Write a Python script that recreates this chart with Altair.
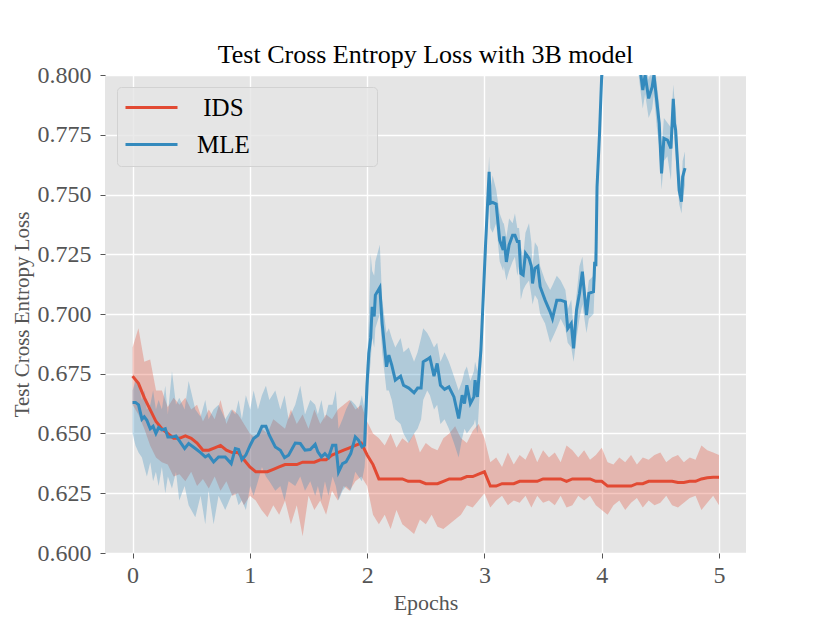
import altair as alt
import pandas as pd

# ---------------- data ----------------
ids_epoch = [round(i * 0.05, 2) for i in range(101)]
ids_mean = [
    0.674, 0.671, 0.665, 0.660, 0.655, 0.652, 0.650, 0.648, 0.648, 0.649,
    0.648, 0.646, 0.643, 0.643, 0.644, 0.645, 0.643, 0.642, 0.642, 0.639,
    0.636, 0.634, 0.634, 0.634, 0.635, 0.636, 0.637, 0.637, 0.637, 0.638,
    0.638, 0.638, 0.639, 0.639, 0.641, 0.642, 0.643, 0.644, 0.645, 0.646,
    0.641, 0.637, 0.631, 0.631, 0.631, 0.631, 0.631, 0.630, 0.630, 0.630,
    0.629, 0.629, 0.629, 0.630, 0.631, 0.631, 0.631, 0.632, 0.632, 0.633,
    0.634, 0.628, 0.628, 0.629, 0.629, 0.629, 0.630, 0.630, 0.630, 0.630,
    0.631, 0.631, 0.631, 0.631, 0.630, 0.631, 0.631, 0.631, 0.631, 0.630,
    0.630, 0.628, 0.628, 0.628, 0.628, 0.628, 0.629, 0.629, 0.630, 0.630,
    0.630, 0.630, 0.630, 0.6295, 0.6295, 0.630, 0.630, 0.631, 0.6315, 0.6317,
    0.6317,
]
ids_lo = [
    0.662, 0.658, 0.652, 0.645, 0.640, 0.638, 0.637, 0.632, 0.633, 0.630,
    0.634, 0.628, 0.631, 0.627, 0.632, 0.626, 0.630, 0.624, 0.625, 0.620,
    0.624, 0.622, 0.618, 0.615, 0.620, 0.616, 0.622, 0.612, 0.620, 0.607,
    0.624, 0.618, 0.622, 0.616, 0.626, 0.622, 0.628, 0.626, 0.630, 0.632,
    0.628, 0.616, 0.612, 0.616, 0.610, 0.618, 0.612, 0.610, 0.608, 0.614,
    0.612, 0.616, 0.611, 0.610, 0.612, 0.614, 0.616, 0.620, 0.619, 0.622,
    0.625, 0.619, 0.622, 0.624, 0.620, 0.622, 0.621, 0.624, 0.619, 0.624,
    0.621, 0.622, 0.620, 0.624, 0.619, 0.620, 0.624, 0.622, 0.624, 0.620,
    0.618, 0.616, 0.620, 0.622, 0.618, 0.621, 0.623, 0.619, 0.622, 0.620,
    0.621, 0.624, 0.620, 0.619, 0.621, 0.623, 0.624, 0.618, 0.621, 0.624,
    0.620,
]
ids_hi = [
    0.686, 0.694, 0.680, 0.681, 0.668, 0.668, 0.661, 0.665, 0.662, 0.665,
    0.660, 0.662, 0.655, 0.660, 0.656, 0.664, 0.654, 0.660, 0.658, 0.654,
    0.650, 0.648, 0.652, 0.650, 0.656, 0.654, 0.652, 0.660, 0.654, 0.658,
    0.652, 0.660, 0.654, 0.658, 0.656, 0.660, 0.662, 0.664, 0.660, 0.662,
    0.655, 0.650, 0.648, 0.645, 0.650, 0.644, 0.648, 0.646, 0.650, 0.642,
    0.646, 0.644, 0.643, 0.648, 0.650, 0.653, 0.648, 0.646, 0.651, 0.654,
    0.648, 0.638, 0.640, 0.636, 0.642, 0.637, 0.641, 0.639, 0.644, 0.638,
    0.643, 0.640, 0.642, 0.638, 0.645, 0.643, 0.640, 0.643, 0.639, 0.641,
    0.644, 0.638, 0.637, 0.640, 0.638, 0.641, 0.637, 0.640, 0.639, 0.641,
    0.642, 0.638, 0.640, 0.641, 0.638, 0.640, 0.639, 0.645, 0.643, 0.642,
    0.641,
]

mle_epoch = [
    0.000, 0.025, 0.051, 0.080, 0.100, 0.122, 0.151, 0.175, 0.199, 0.222,
    0.250, 0.279, 0.301, 0.336, 0.370, 0.398, 0.444, 0.478, 0.535, 0.580,
    0.620, 0.648, 0.691, 0.733, 0.790, 0.841, 0.876, 0.904, 0.932, 0.966,
    1.003, 1.032, 1.069, 1.103, 1.137, 1.166, 1.217, 1.260, 1.296, 1.330,
    1.387, 1.430, 1.470, 1.515, 1.557, 1.580, 1.610, 1.640, 1.670, 1.705,
    1.733, 1.756, 1.790, 1.820, 1.860, 1.899, 1.926, 1.955, 1.978, 1.998,
    2.014, 2.030, 2.043, 2.060, 2.070, 2.108, 2.128, 2.165, 2.185, 2.210,
    2.240, 2.285, 2.310, 2.355, 2.400, 2.430, 2.460, 2.478, 2.512, 2.535,
    2.570, 2.597, 2.625, 2.660, 2.697, 2.740, 2.780, 2.810, 2.830, 2.850,
    2.880, 2.910, 2.920, 2.940, 2.970, 3.010, 3.040, 3.050, 3.070, 3.100,
    3.130, 3.160, 3.165, 3.187, 3.210, 3.240, 3.260, 3.280, 3.295, 3.310,
    3.330, 3.350, 3.380, 3.400, 3.410, 3.430, 3.455, 3.475, 3.517, 3.560,
    3.580, 3.617, 3.650, 3.690, 3.710, 3.740, 3.760, 3.785, 3.810, 3.835,
    3.870, 3.890, 3.930, 3.940, 3.950, 3.960, 3.980, 4.000, 4.050, 4.100,
    4.150, 4.200, 4.250, 4.300, 4.334, 4.350, 4.370, 4.400, 4.430, 4.445,
    4.470, 4.490, 4.510, 4.530, 4.560, 4.590, 4.610, 4.620, 4.630, 4.660,
    4.680, 4.690, 4.710,
]
mle_mean = [
    0.663, 0.663, 0.662, 0.656, 0.657, 0.6555, 0.652, 0.653, 0.650, 0.6525,
    0.6515, 0.652, 0.6485, 0.6485, 0.649, 0.647, 0.6437, 0.6458, 0.6437, 0.642,
    0.6402, 0.641, 0.6381, 0.6402, 0.6402, 0.6374, 0.6437, 0.6433, 0.639, 0.641,
    0.6451, 0.6479, 0.6493, 0.653, 0.653, 0.6493, 0.6444, 0.643, 0.6399, 0.6409,
    0.646, 0.6458, 0.643, 0.6433, 0.6455, 0.6423, 0.6402, 0.6416, 0.640, 0.6451,
    0.6451, 0.6339, 0.6374, 0.6381, 0.6416, 0.6486, 0.6472, 0.6444, 0.6451, 0.6695,
    0.6835, 0.690, 0.703, 0.699, 0.7079, 0.7111, 0.696, 0.6779, 0.6828, 0.6786,
    0.6723, 0.674, 0.6702, 0.669, 0.667, 0.669, 0.669, 0.680, 0.681, 0.6818,
    0.674, 0.6793, 0.6702, 0.6685, 0.6695, 0.6653, 0.6563, 0.666, 0.6625, 0.6702,
    0.6625, 0.6653, 0.6723, 0.6653, 0.6849, 0.7295, 0.7595, 0.7463, 0.7467, 0.746,
    0.7309, 0.7268, 0.7325, 0.7218, 0.7289, 0.733, 0.733, 0.7303, 0.7303, 0.717,
    0.7163, 0.7254, 0.7233, 0.720, 0.7128, 0.7191, 0.720, 0.7114, 0.7058, 0.7009,
    0.6981, 0.7058, 0.7058, 0.7051, 0.6939, 0.696, 0.6856, 0.7016, 0.7086, 0.7177,
    0.6995, 0.7086, 0.7093, 0.7218, 0.720, 0.7532, 0.7742, 0.800, 0.822, 0.835,
    0.830, 0.838, 0.826, 0.815, 0.800, 0.7937, 0.800, 0.7902, 0.795, 0.800,
    0.7888, 0.7798, 0.7588, 0.7735, 0.7728, 0.7693, 0.790, 0.7798, 0.777, 0.7518,
    0.747, 0.7574, 0.761,
]
mle_lo = [
    0.650, 0.645, 0.642, 0.640, 0.636, 0.632, 0.638, 0.630, 0.634, 0.628,
    0.636, 0.625, 0.632, 0.627, 0.634, 0.622, 0.628, 0.620, 0.615, 0.624,
    0.612, 0.626, 0.612, 0.624, 0.618, 0.624, 0.625, 0.620, 0.622, 0.618,
    0.628, 0.624, 0.630, 0.636, 0.632, 0.630, 0.626, 0.628, 0.622, 0.630,
    0.628, 0.632, 0.626, 0.630, 0.624, 0.628, 0.622, 0.630, 0.624, 0.632,
    0.628, 0.622, 0.626, 0.628, 0.626, 0.634, 0.632, 0.630, 0.636, 0.650,
    0.672, 0.680, 0.690, 0.686, 0.694, 0.700, 0.684, 0.668, 0.668, 0.664,
    0.656, 0.654, 0.650, 0.646, 0.650, 0.652, 0.656, 0.664, 0.668, 0.666,
    0.660, 0.662, 0.654, 0.656, 0.652, 0.646, 0.640, 0.648, 0.652, 0.650,
    0.652, 0.654, 0.656, 0.650, 0.676, 0.720, 0.748, 0.736, 0.734, 0.738,
    0.722, 0.718, 0.720, 0.714, 0.718, 0.722, 0.724, 0.716, 0.720, 0.706,
    0.710, 0.712, 0.714, 0.708, 0.704, 0.708, 0.706, 0.700, 0.696, 0.688,
    0.690, 0.694, 0.698, 0.694, 0.688, 0.686, 0.680, 0.690, 0.698, 0.704,
    0.692, 0.698, 0.700, 0.712, 0.716, 0.746, 0.768, 0.794, 0.812, 0.826,
    0.822, 0.828, 0.816, 0.806, 0.792, 0.786, 0.792, 0.782, 0.786, 0.792,
    0.778, 0.770, 0.752, 0.764, 0.766, 0.756, 0.780, 0.772, 0.766, 0.746,
    0.742, 0.748, 0.754,
]
mle_hi = [
    0.668, 0.672, 0.670, 0.664, 0.668, 0.660, 0.662, 0.668, 0.660, 0.664,
    0.660, 0.670, 0.658, 0.676, 0.662, 0.665, 0.660, 0.672, 0.660, 0.657,
    0.664, 0.656, 0.660, 0.662, 0.656, 0.660, 0.658, 0.664, 0.656, 0.666,
    0.660, 0.668, 0.660, 0.666, 0.670, 0.664, 0.668, 0.660, 0.666, 0.656,
    0.662, 0.670, 0.658, 0.664, 0.662, 0.658, 0.664, 0.656, 0.662, 0.662,
    0.668, 0.652, 0.656, 0.660, 0.664, 0.662, 0.660, 0.666, 0.660, 0.680,
    0.698, 0.725, 0.718, 0.716, 0.722, 0.729, 0.706, 0.692, 0.694, 0.690,
    0.686, 0.690, 0.684, 0.686, 0.680, 0.684, 0.690, 0.694, 0.692, 0.690,
    0.686, 0.688, 0.680, 0.684, 0.680, 0.674, 0.668, 0.672, 0.676, 0.678,
    0.672, 0.676, 0.680, 0.676, 0.690, 0.736, 0.766, 0.752, 0.758, 0.752,
    0.742, 0.738, 0.738, 0.732, 0.740, 0.738, 0.742, 0.736, 0.736, 0.728,
    0.724, 0.734, 0.738, 0.730, 0.720, 0.730, 0.728, 0.720, 0.714, 0.710,
    0.712, 0.716, 0.714, 0.710, 0.702, 0.706, 0.694, 0.708, 0.720, 0.724,
    0.706, 0.714, 0.716, 0.726, 0.726, 0.758, 0.780, 0.806, 0.830, 0.842,
    0.840, 0.846, 0.834, 0.824, 0.810, 0.802, 0.808, 0.798, 0.804, 0.808,
    0.796, 0.788, 0.768, 0.782, 0.780, 0.778, 0.796, 0.790, 0.786, 0.760,
    0.754, 0.764, 0.768,
]

series_names = ["IDS", "MLE"]
series_colors = ["#E24A33", "#348ABD"]
x_ticks = [0, 1, 2, 3, 4, 5]
y_ticks = [0.600, 0.625, 0.650, 0.675, 0.700, 0.725, 0.750, 0.775, 0.800]

# ---------------- table ----------------
df = pd.concat([
    pd.DataFrame({"series": "IDS", "epoch": ids_epoch, "mean": ids_mean,
                  "lo": ids_lo, "hi": ids_hi}),
    pd.DataFrame({"series": "MLE", "epoch": mle_epoch, "mean": mle_mean,
                  "lo": mle_lo, "hi": mle_hi}),
], ignore_index=True)

FONT = "Liberation Serif"
GREY = "#555555"

x_enc = alt.X(
    "epoch:Q",
    scale=alt.Scale(domain=[-0.235, 5.23], nice=False, zero=False),
    axis=alt.Axis(values=x_ticks, format="d", title="Epochs"),
)
y_scale = alt.Scale(domain=[0.6, 0.8], nice=False, zero=False)
y_axis = alt.Axis(values=y_ticks, format=".3f", title="Test Cross Entropy Loss")

color_scale = alt.Scale(domain=series_names, range=series_colors)

NB = "\u00a0"   # non-breaking space (kept by the renderer)
ZW = "\u200b"   # zero-width guard so the spaces are not trimmed
label_expr = (
    "datum.label == 'IDS' ? '" + ZW + NB + "IDS' : 'MLE" + NB * 19 + ZW + "'"
)

legend = alt.Legend(
    title=None,
    orient="none",
    legendX=12,
    legendY=12,
    labelExpr=label_expr,
)

base = alt.Chart(df)

bands = base.mark_area(opacity=0.3, clip=True).encode(
    x=x_enc,
    y=alt.Y("lo:Q", scale=y_scale, axis=y_axis),
    y2="hi:Q",
    color=alt.Color("series:N", scale=color_scale, legend=legend),
    detail="series:N",
)

lines = base.mark_line(strokeWidth=3, clip=True).encode(
    x=x_enc,
    y=alt.Y("mean:Q", scale=y_scale, axis=y_axis),
    color=alt.Color("series:N", scale=color_scale, legend=legend),
    order="epoch:Q",
)

chart = (
    alt.layer(bands, lines)
    .properties(
        width=641,
        height=478,
        title=alt.TitleParams(
            "Test Cross Entropy Loss with 3B model",
            font=FONT, fontSize=26, fontWeight="normal", color="black",
            anchor="middle", offset=7, dy=12,
        ),
        autosize=alt.AutoSizeParams(type="none"),
        padding={"left": 97, "top": 67, "right": 60, "bottom": 64},
        background="white",
    )
    .configure_view(fill="#E5E5E5", stroke=None)
    .configure_axis(
        domain=False,
        grid=True,
        gridColor="white",
        gridWidth=1.4,
        tickColor=GREY,
        tickSize=5,
        tickWidth=1,
        labelFont=FONT,
        labelFontSize=24,
        labelColor=GREY,
        titleFont=FONT,
        titleFontSize=22,
        titleFontWeight="normal",
        titleColor=GREY,
    )
    .configure_axisX(labelPadding=5, titlePadding=5)
    .configure_axisY(labelPadding=9, titlePadding=5, titleFontSize=21)
    .configure_legend(
        symbolType="M-4,0L4,0",
        symbolSize=169,
        symbolStrokeWidth=3,
        symbolOpacity=1,
        symbolOffset=14,
        labelFont=FONT,
        labelFontSize=25,
        labelColor="black",
        labelOffset=33,
        labelLimit=400,
        rowPadding=11,
        padding=8,
        fillColor="rgba(229,229,229,0.8)",
        strokeColor="#D2D2D2",
        cornerRadius=4,
    )
)

chart.save("out.html", embed_options={"renderer": "svg", "actions": False})
